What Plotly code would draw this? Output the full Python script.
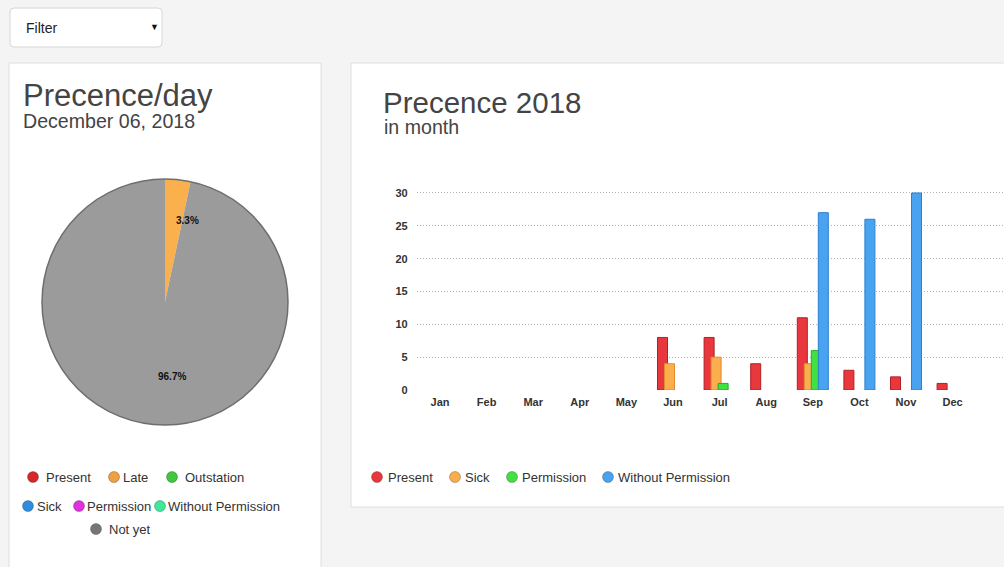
import math
import plotly.graph_objects as go

W, H = 1004, 567

# ---------------- data ----------------
months = ["Jan", "Feb", "Mar", "Apr", "May", "Jun", "Jul", "Aug", "Sep", "Oct", "Nov", "Dec"]
present = [0, 0, 0, 0, 0, 8, 8, 4, 11, 3, 2, 1]
sick = [0, 0, 0, 0, 0, 4, 5, 0, 4, 0, 0, 0]
permission = [0, 0, 0, 0, 0, 0, 1, 0, 6, 0, 0, 0]
without_permission = [0, 0, 0, 0, 0, 0, 0, 0, 27, 26, 30, 0]
y_ticks = [0, 5, 10, 15, 20, 25, 30]

pie_labels = ["Present", "Late", "Outstation", "Sick", "Permission", "Without Permission", "Not yet"]
pie_values = [0, 1, 0, 0, 0, 0, 29]
pie_colors = ["#d9262b", "#fbb04e", "#3ec83e", "#2f8de0", "#e030e0", "#3de89a", "#9b9b9b"]
pie_legend_dot = ["#d9262b", "#f0a03c", "#3ec83e", "#2f8de0", "#e030e0", "#3de89a", "#777777"]

bar_series = [
    ("Present", present, "#e8383e", "#b31f25"),
    ("Sick", sick, "#fbae4e", "#e08c2c"),
    ("Permission", permission, "#42e042", "#22b022"),
    ("Without Permission", without_permission, "#4aa3f0", "#2a80d0"),
]

FONT = "Liberation Sans, Arial, sans-serif"


def px(x):
    return x / W


def py(y):
    return 1 - y / H


fig = go.Figure()

# ---------------- pie ----------------
cx, cy, r = 165, 302, 123
fig.add_trace(go.Pie(
    labels=pie_labels, values=pie_values, sort=False, direction="clockwise", rotation=0,
    marker=dict(colors=pie_colors, line=dict(width=0)),
    textinfo="none", hoverinfo="label+percent", showlegend=False, automargin=False,
    domain=dict(x=[px(cx - r), px(cx + r)], y=[py(cy + r), py(cy - r)]),
))

# pie data labels from values
total = sum(pie_values)
cum = 0
for lab, v in zip(pie_labels, pie_values):
    if v > 0:
        mid = (cum + v / 2) / total * 2 * math.pi
        lx = cx + math.sin(mid) * r * 2 / 3
        ly = cy - math.cos(mid) * r * 2 / 3
        fig.add_annotation(x=px(lx), y=py(ly), xref="paper", yref="paper",
                           text=f"<b>{v / total * 100:.1f}%</b>", showarrow=False,
                           font=dict(family=FONT, size=10, color="#111"))
    cum += v

# ---------------- bars ----------------
cat_px = 46.6            # pixel width of one month slot
bar_w = 10 / cat_px      # bar width in category units
step = 7 / cat_px        # bars overlap slightly
start = -(3 * step + bar_w) / 2
for i, (name, vals, col, edge) in enumerate(bar_series):
    fig.add_trace(go.Bar(
        x=months, y=[v if v else None for v in vals], name=name, showlegend=False,
        width=bar_w, offset=start + i * step,
        marker=dict(color=col, line=dict(color=edge, width=1)),
    ))

x_left = 416.7
x_right = 1003
fig.update_layout(
    barmode="overlay",
    xaxis=dict(domain=[px(x_left), px(x_right)], range=[-0.5, -0.5 + (x_right - x_left) / cat_px],
               automargin=False, showgrid=False, zeroline=False, showline=False,
               tickfont=dict(family=FONT, size=11, color="#333"), ticklabelstandoff=4,
               ticks="", tickprefix="<b>", ticksuffix="</b>", fixedrange=True),
    yaxis=dict(domain=[py(390), py(390 - 30.5 * 6.567)], range=[0, 30.5], automargin=False,
               tickvals=y_ticks, ticktext=[f"<b>{t}</b>" for t in y_ticks],
               showgrid=True, gridcolor="#b0b0b0", griddash="1px,2px", gridwidth=1,
               zeroline=False, showline=False, ticks="", ticklabelstandoff=8,
               tickfont=dict(family=FONT, size=11, color="#333"), fixedrange=True),
)

# ---------------- page decorations ----------------
shapes = []
# cards
shapes.append(dict(type="rect", xref="paper", yref="paper", x0=px(9), x1=px(321), y0=py(575), y1=py(63),
                   fillcolor="white", line=dict(color="#dedede", width=1), layer="below"))
shapes.append(dict(type="rect", xref="paper", yref="paper", x0=px(351), x1=px(1010), y0=py(507), y1=py(63),
                   fillcolor="white", line=dict(color="#dedede", width=1), layer="below"))
# filter box (rounded)
fx0, fy0, fx1, fy1, rr = 10, 8, 162, 47, 4
path = (f"M {px(fx0 + rr)},{py(fy0)} L {px(fx1 - rr)},{py(fy0)} Q {px(fx1)},{py(fy0)} {px(fx1)},{py(fy0 + rr)} "
        f"L {px(fx1)},{py(fy1 - rr)} Q {px(fx1)},{py(fy1)} {px(fx1 - rr)},{py(fy1)} "
        f"L {px(fx0 + rr)},{py(fy1)} Q {px(fx0)},{py(fy1)} {px(fx0)},{py(fy1 - rr)} "
        f"L {px(fx0)},{py(fy0 + rr)} Q {px(fx0)},{py(fy0)} {px(fx0 + rr)},{py(fy0)} Z")
shapes.append(dict(type="path", xref="paper", yref="paper", path=path,
                   fillcolor="white", line=dict(color="#d6d6d6", width=1), layer="below"))
# pie outer rim
shapes.append(dict(type="circle", xref="paper", yref="paper",
                   x0=px(cx - r), x1=px(cx + r), y0=py(cy + r), y1=py(cy - r),
                   line=dict(color="#6e6e6e", width=1.5)))


def dot(x, y, color, rad=5.5):
    shapes.append(dict(type="circle", xref="paper", yref="paper",
                       x0=px(x - rad), x1=px(x + rad), y0=py(y + rad), y1=py(y - rad),
                       fillcolor=color, line=dict(color="rgba(0,0,0,0.25)", width=1)))


def text(x, y, s, size=13, color="#333", xanchor="left", bold=False):
    fig.add_annotation(x=px(x), y=py(y), xref="paper", yref="paper", text=(f"<b>{s}</b>" if bold else s),
                       showarrow=False, xanchor=xanchor, yanchor="middle",
                       font=dict(family=FONT, size=size, color=color))


# pie legend
pie_leg_pos = [(33, 477, 46), (114, 477, 123), (172, 477, 185),
               (28, 506, 37), (79, 506, 87), (160, 506, 168), (96, 529, 109)]
for lab, col, (dx, dy, tx) in zip(pie_labels, pie_legend_dot, pie_leg_pos):
    dot(dx, dy, col)
    text(tx - 2, dy, lab)

# bar legend
bar_leg_pos = [(377, 388), (455, 465), (512, 522), (608, 618)]
for (name, _, col, _e), (dx, tx) in zip(bar_series, bar_leg_pos):
    dot(dx, 477, col)
    text(tx - 2, 477, name)

# titles
text(21, 95, "Precence/day", size=31, color="#444")
text(21, 121, "December 06, 2018", size=19.6, color="#444")
text(381, 102, "Precence 2018", size=29.5, color="#444")
text(382, 127, "in month", size=19.6, color="#444")

# filter
text(24, 28, "Filter", size=14, color="#222")
text(154, 27, "▼", size=9, color="#111", xanchor="center")

fig.update_layout(
    width=W, height=H, margin=dict(l=0, r=0, t=0, b=0, pad=0),
    paper_bgcolor="#f4f4f5", plot_bgcolor="rgba(0,0,0,0)",
    shapes=shapes, showlegend=False, font=dict(family=FONT),
)

fig.write_html("out.html", config={"displayModeBar": False, "responsive": False},
               post_script="document.body.style.margin='0';")
